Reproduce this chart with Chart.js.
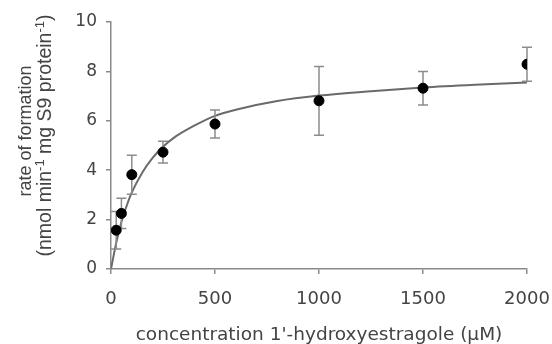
<!DOCTYPE html>
<html>
<head>
<meta charset="utf-8">
<script src="https://cdn.jsdelivr.net/npm/chart.js@4/dist/chart.umd.min.js"></script>
<style>
  html, body { margin: 0; padding: 0; background: #ffffff; }
  canvas { display: block; }
</style>
</head>
<body>
<canvas id="chart" width="552" height="344"></canvas>
<script>
// Measured formation rates (mean ± SD) at each substrate concentration
const concentration = [25, 50, 100, 250, 500, 1000, 1500, 2000];
const rate          = [1.57, 2.25, 3.82, 4.73, 5.87, 6.81, 7.32, 8.29];
const rateSD        = [0.76, 0.61, 0.79, 0.44, 0.57, 1.39, 0.68, 0.69];

// Fitted saturation curve, sampled along the concentration range
const fitConc = [0, 25, 50, 75, 100, 150, 200, 250, 300, 400, 500, 600, 800, 1000, 1250, 1500, 1750, 2000];
const fitRate = [0, 1.05, 1.9, 2.55, 3.1, 3.9, 4.5, 4.95, 5.3, 5.8, 6.2, 6.45, 6.8, 7.02, 7.2, 7.35, 7.46, 7.55];

// Axis ticks and labels
const xTicks = [0, 500, 1000, 1500, 2000];
const yTicks = [0, 2, 4, 6, 8, 10];
const xTitle = "concentration 1'-hydroxyestragole (\u00b5M)";
const yTitleLine1 = 'rate of formation';
const yTitleLine2 = [['(nmol min', false], ['-1', true], [' mg S9 protein', false], ['-1', true], [')', false]];

const WIDE = "'DejaVu Sans', sans-serif";
const FONT = "'Liberation Sans', Arial, sans-serif";
const TEXT = '#444444';
const AXIS = '#8a8a8a';

const points = concentration.map((c, i) => ({ x: c, y: rate[i] }));
const curve = fitConc.map((c, i) => ({ x: c, y: fitRate[i] }));

// Vertical error bars with caps, drawn after the curve and before the markers
const errorBars = {
  id: 'errorBars',
  afterDatasetDraw(chart, args) {
    if (args.index !== 1) return;
    const { ctx, scales: { x, y } } = chart;
    ctx.save();
    ctx.strokeStyle = '#8c8c8c';
    ctx.lineWidth = 1.5;
    concentration.forEach((c, i) => {
      const px = x.getPixelForValue(c);
      const top = y.getPixelForValue(rate[i] + rateSD[i]);
      const bot = y.getPixelForValue(rate[i] - rateSD[i]);
      ctx.beginPath();
      ctx.moveTo(px, top); ctx.lineTo(px, bot);
      ctx.moveTo(px - 5, top); ctx.lineTo(px + 5, top);
      ctx.moveTo(px - 5, bot); ctx.lineTo(px + 5, bot);
      ctx.stroke();
    });
    ctx.restore();
  }
};

// Two-line rotated y-axis title with superscript exponents
const yTitle = {
  id: 'yTitle',
  afterDraw(chart) {
    const { ctx } = chart;
    const main1 = '18px ' + FONT;
    const main2 = '19.5px ' + FONT;
    const sup = '13px ' + FONT;
    ctx.save();
    ctx.fillStyle = TEXT;
    ctx.textBaseline = 'middle';
    // first line
    ctx.save();
    ctx.translate(26, 131);
    ctx.rotate(-Math.PI / 2);
    ctx.font = main1;
    ctx.textAlign = 'center';
    ctx.fillText(yTitleLine1, 0, 0);
    ctx.restore();
    // second line with superscripts
    ctx.translate(46, 135.5);
    ctx.rotate(-Math.PI / 2);
    ctx.textAlign = 'left';
    let total = 0;
    yTitleLine2.forEach(([t, s]) => { ctx.font = s ? sup : main2; total += ctx.measureText(t).width; });
    let xpos = -total / 2;
    yTitleLine2.forEach(([t, s]) => {
      ctx.font = s ? sup : main2;
      ctx.fillText(t, xpos, s ? -6 : 0);
      xpos += ctx.measureText(t).width;
    });
    ctx.restore();
  }
};

new Chart(document.getElementById('chart'), {
  type: 'scatter',
  data: {
    datasets: [
      {
        label: 'measured',
        data: points,
        backgroundColor: '#000000',
        borderColor: '#000000',
        pointRadius: 5,
        pointHoverRadius: 5,
        showLine: false
      },
      {
        label: 'fit',
        data: curve,
        showLine: true,
        borderColor: '#6a6a6a',
        borderWidth: 2,
        pointRadius: 0,
        cubicInterpolationMode: 'monotone',
        fill: false
      }
    ]
  },
  options: {
    responsive: false,
    animation: false,
    devicePixelRatio: 1,
    layout: { padding: 0 },
    plugins: {
      legend: { display: false },
      tooltip: { enabled: false }
    },
    scales: {
      x: {
        type: 'linear',
        min: 0,
        max: 2000,
        afterBuildTicks(scale) { scale.ticks = xTicks.map(v => ({ value: v })); },
        afterFit(scale) {
          scale.height = 75;
          scale.paddingLeft = 0;
          scale.paddingRight = 25;
        },
        ticks: {
          font: { family: WIDE, size: 18 }, color: TEXT, padding: 15, maxRotation: 0,
          callback: v => String(v)
        },
        grid: { drawOnChartArea: false, drawTicks: true, tickLength: 5, color: AXIS, lineWidth: 1.5 },
        border: { color: AXIS, width: 1.5 },
        title: {
          display: true,
          text: xTitle,
          color: TEXT,
          font: { family: WIDE, size: 18.5, lineHeight: 1 },
          padding: { top: 0, bottom: 0 }
        }
      },
      y: {
        type: 'linear',
        min: 0,
        max: 10,
        afterBuildTicks(scale) { scale.ticks = yTicks.map(v => ({ value: v })); },
        afterFit(scale) {
          scale.width = 111;
          scale.paddingTop = 22;
          scale.paddingBottom = 0;
        },
        ticks: {
          font: { family: WIDE, size: 17 }, color: TEXT, padding: 9,
          callback: v => String(v)
        },
        grid: { drawOnChartArea: false, drawTicks: true, tickLength: 5, color: AXIS, lineWidth: 1.5 },
        border: { color: AXIS, width: 1.5 }
      }
    }
  },
  plugins: [errorBars, yTitle]
});
</script>
</body>
</html>
